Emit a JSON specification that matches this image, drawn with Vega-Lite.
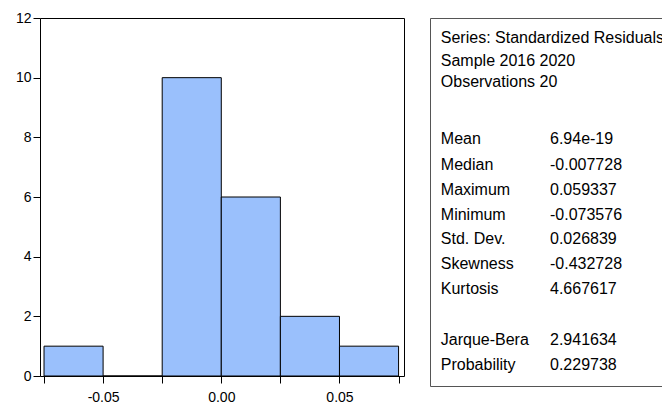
{
  "$schema": "https://vega.github.io/schema/vega-lite/v6.json",
  "padding": {"left": 14, "top": 10, "right": 0, "bottom": 0},
  "background": "white",
  "config": {
    "font": "Liberation Sans",
    "view": {"stroke": "black", "strokeWidth": 1}
  },
  "spacing": 24,
  "hconcat": [
    {
      "width": 364,
      "height": 358,
      "data": {
        "values": [
          {"bin_start": -0.075, "bin_end": -0.05, "count": 1},
          {"bin_start": -0.05, "bin_end": -0.025, "count": 0},
          {"bin_start": -0.025, "bin_end": 0.0, "count": 10},
          {"bin_start": 0.0, "bin_end": 0.025, "count": 6},
          {"bin_start": 0.025, "bin_end": 0.05, "count": 2},
          {"bin_start": 0.05, "bin_end": 0.075, "count": 1}
        ]
      },
      "mark": {"type": "rect", "fill": "#9ac0fc", "stroke": "black", "strokeWidth": 1},
      "encoding": {
        "x": {
          "field": "bin_start", "type": "quantitative",
          "scale": {"domain": [-0.0767, 0.0773], "nice": false, "zero": false},
          "axis": {
            "title": null, "grid": false, "domain": false,
            "values": [-0.075, -0.05, -0.025, 0, 0.025, 0.05, 0.075],
            "labelExpr": "round(datum.value*40) % 2 != 0 ? '' : (datum.value < 0 ? '-' + format(-datum.value, '.2f') : format(datum.value, '.2f'))",
            "tickColor": "black", "tickSize": 7, "tickWidth": 1,
            "labelColor": "black", "labelFontSize": 14, "labelPadding": 7,
            "labelFont": "Liberation Sans"
          }
        },
        "x2": {"field": "bin_end"},
        "y": {
          "field": "count", "type": "quantitative",
          "scale": {"domain": [0, 12], "nice": false},
          "axis": {
            "title": null, "grid": false, "domain": false,
            "values": [0, 2, 4, 6, 8, 10, 12],
            "tickColor": "black", "tickSize": 7, "tickWidth": 1,
            "labelColor": "black", "labelFontSize": 14, "labelPadding": 2,
            "labelFont": "Liberation Sans"
          }
        },
        "y2": {"datum": 0}
      }
    },
    {
      "width": 240,
      "height": 368,
      "view": {"stroke": "#555555"},
      "data": {
        "values": [
          {"stat": "Series: Standardized Residuals", "value": "", "line": 0},
          {"stat": "Sample 2016 2020", "value": "", "line": 0.9},
          {"stat": "Observations 20", "value": "", "line": 1.77},
          {"stat": "Mean", "value": "6.94e-19", "line": 4.04},
          {"stat": "Median", "value": "-0.007728", "line": 5.06},
          {"stat": "Maximum", "value": "0.059337", "line": 6.08},
          {"stat": "Minimum", "value": "-0.073576", "line": 7.06},
          {"stat": "Std. Dev.", "value": "0.026839", "line": 8.04},
          {"stat": "Skewness", "value": "-0.432728", "line": 9.04},
          {"stat": "Kurtosis", "value": "4.667617", "line": 10.04},
          {"stat": "Jarque-Bera", "value": "2.941634", "line": 12.08},
          {"stat": "Probability", "value": "0.229738", "line": 13.08}
        ]
      },
      "encoding": {
        "y": {
          "field": "line", "type": "quantitative",
          "scale": {"domain": [-0.8, 13.92], "nice": false, "zero": false, "reverse": true},
          "axis": null
        }
      },
      "layer": [
        {
          "mark": {"type": "text", "align": "left", "baseline": "middle", "fontSize": 16, "color": "black", "font": "Liberation Sans"},
          "encoding": {
            "x": {"datum": 0.045, "type": "quantitative", "scale": {"domain": [0, 1], "nice": false, "zero": false}, "axis": null},
            "text": {"field": "stat"}
          }
        },
        {
          "mark": {"type": "text", "align": "left", "baseline": "middle", "fontSize": 16, "color": "black", "font": "Liberation Sans"},
          "encoding": {
            "x": {"datum": 0.5, "type": "quantitative"},
            "text": {"field": "value"}
          }
        }
      ]
    }
  ]
}
